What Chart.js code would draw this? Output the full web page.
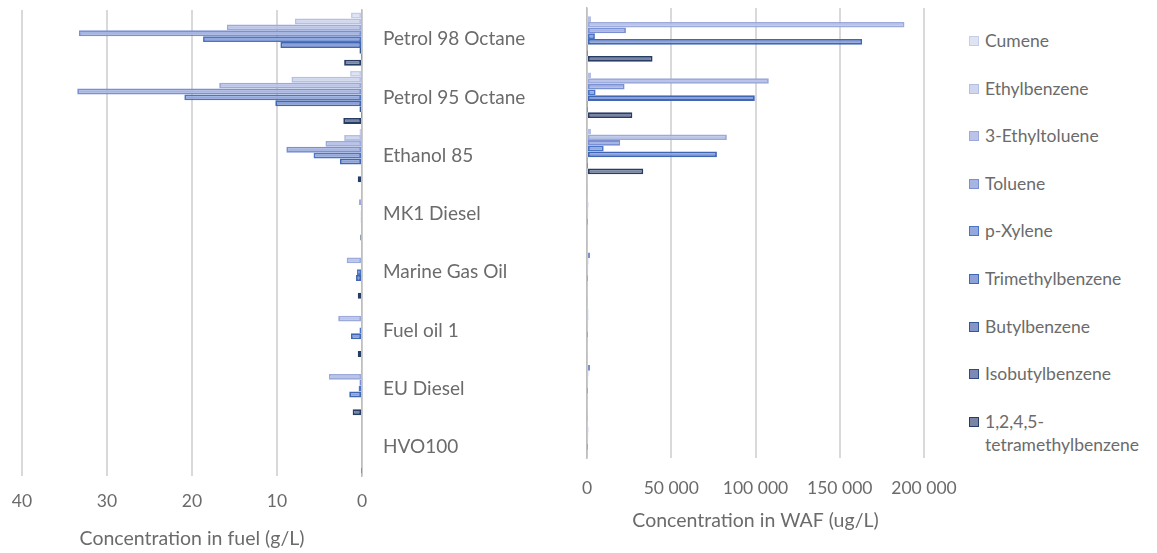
<!DOCTYPE html>
<html>
<head>
<meta charset="utf-8">
<script src="https://cdn.jsdelivr.net/npm/chart.js@4.4.0/dist/chart.umd.min.js"></script>
<style>
  html, body { margin: 0; padding: 0; background: #fff; }
  body { width: 1157px; height: 553px; position: relative; overflow: hidden; font-family: Lato, 'Open Sans', sans-serif; }
  .panel { position: absolute; top: 0; height: 553px; }
  #fuelWrap { left: 0; width: 560px; }
  #wafWrap { left: 560px; width: 400px; }
  #legend { position: absolute; left: 969px; top: 30px; width: 188px; }
  .leg-item { position: relative; height: 47.6px; }
  .leg-box { position: absolute; left: 0; top: 6px; width: 8px; height: 8px; border: 1.5px solid; }
  .leg-text { position: absolute; left: 16px; top: -1px; width: 170px; font-size: 17.5px; line-height: 23px; color: #6b6b6b; }
</style>
</head>
<body>
<div id="fuelWrap" class="panel"><canvas id="fuelChart"></canvas></div>
<div id="wafWrap" class="panel"><canvas id="wafChart"></canvas></div>
<div id="legend"></div>

<script>
/* ==================== Data ==================== */
const categories = ['Petrol 98 Octane', 'Petrol 95 Octane', 'Ethanol 85', 'MK1 Diesel',
    'Marine Gas Oil', 'Fuel oil 1', 'EU Diesel', 'HVO100'];

const seriesNames = ['Cumene', 'Ethylbenzene', '3-Ethyltoluene', 'Toluene', 'p-Xylene',
    'Trimethylbenzene', 'Butylbenzene', 'Isobutylbenzene', '1,2,4,5-tetramethylbenzene'];

// Concentration in fuel (g/L), one array per compound, in category order
const cumeneFuel        = [1.3, 1.4, 0.3, 0, 0, 0, 0, 0];
const ethylbenzeneFuel  = [7.9, 8.3, 2.1, 0, 0, 0, 0, 0];
const ethyltolueneFuel  = [15.9, 16.8, 4.3, 0.35, 1.8, 2.8, 3.9, 0];
const tolueneFuel       = [33.3, 33.5, 8.9, 0, 0.1, 0, 0.3, 0];
const pXyleneFuel       = [18.7, 20.9, 5.7, 0.15, 0.6, 0.3, 0.4, 0];
const trimethylFuel     = [9.6, 10.2, 2.6, 0.15, 0.7, 1.3, 1.5, 0];
const butylbenzeneFuel  = [0.3, 0.3, 0.1, 0, 0, 0, 0.1, 0];
const isobutylFuel      = [0.05, 0.05, 0, 0, 0, 0, 0, 0];
const tetramethylFuel   = [2.1, 2.2, 0.5, 0.2, 0.5, 0.5, 1.1, 0.05];

// Concentration in WAF (ug/L)
const cumeneWaf         = [600, 600, 600, 200, 200, 200, 200, 200];
const ethylbenzeneWaf   = [2400, 2400, 2400, 300, 300, 300, 300, 300];
const ethyltolueneWaf   = [188400, 107900, 83000, 400, 600, 500, 600, 300];
const tolueneWaf        = [23100, 22300, 19700, 600, 1800, 800, 1800, 600];
const pXyleneWaf        = [4700, 5100, 9900, 800, 800, 800, 800, 800];
const trimethylWaf      = [163300, 99600, 77100, 700, 700, 700, 700, 700];
const butylbenzeneWaf   = [300, 300, 300, 500, 500, 500, 500, 500];
const isobutylWaf       = [200, 200, 200, 300, 300, 300, 300, 300];
const tetramethylWaf    = [38900, 26900, 33400, 500, 500, 500, 500, 500];

const fuelTicks = [0, 10, 20, 30, 40];
const wafTicks = [0, 50000, 100000, 150000, 200000];

/* ==================== Styles ==================== */
const fills   = ['#dfe3f2', '#cfd6ee', '#b9c4e8', '#a7b5e2', '#95a8de', '#8da1d8', '#8595c9', '#7e8ab6', '#7a84a3'];
const borders = ['#c5cdea', '#b3bfe4', '#9baadb', '#7a90d2', '#4a74c6', '#3f67b4', '#335894', '#2e4b82', '#263d66'];

const fuelSeries = [cumeneFuel, ethylbenzeneFuel, ethyltolueneFuel, tolueneFuel, pXyleneFuel,
    trimethylFuel, butylbenzeneFuel, isobutylFuel, tetramethylFuel];
const wafSeries = [cumeneWaf, ethylbenzeneWaf, ethyltolueneWaf, tolueneWaf, pXyleneWaf,
    trimethylWaf, butylbenzeneWaf, isobutylWaf, tetramethylWaf];

const TEXT = '#6b6b6b';
const GRID = '#d9d9d9';
const FAMILY = 'Lato, "Open Sans", sans-serif';

Chart.defaults.color = TEXT;
Chart.defaults.font.family = FAMILY;
Chart.defaults.font.size = 17.5;

function buildDatasets(seriesList) {
    return seriesList.map((values, i) => ({
        label: seriesNames[i],
        data: values,
        backgroundColor: fills[i],
        borderColor: borders[i],
        borderWidth: 1.8,
        borderSkipped: false,
        categoryPercentage: 0.91,
        barPercentage: 1.0
    }));
}

function fmtSpace(v) {
    return String(v).replace(/\B(?=(\d{3})+(?!\d))/g, ' ');
}

// axes must not push the plot area in; layout padding does the placing
function noPadY(axis) {
    axis.paddingTop = 0;
    axis.paddingBottom = 0;
}
function noPadX(axis) {
    axis.paddingLeft = 0;
    axis.paddingRight = 0;
}

/* ==================== Left chart: fuel ==================== */
new Chart(document.getElementById('fuelChart'), {
    type: 'bar',
    data: { labels: categories, datasets: buildDatasets(fuelSeries) },
    options: {
        indexAxis: 'y',
        responsive: true,
        maintainAspectRatio: false,
        animation: false,
        layout: { padding: { left: 22, top: 10, right: 0, bottom: 0 } },
        plugins: { legend: { display: false }, tooltip: { enabled: false } },
        scales: {
            x: {
                min: 0, max: 40, reverse: true,
                afterBuildTicks: axis => { axis.ticks = fuelTicks.map(v => ({ value: v })); },
                afterFit: axis => { axis.height = 77; noPadX(axis); },
                grid: { color: GRID, lineWidth: 2, drawTicks: false },
                border: { display: false },
                ticks: { padding: 15, color: TEXT },
                title: { display: true, text: 'Concentration in fuel (g/L)', color: TEXT,
                    font: { size: 19.5 }, padding: { top: 0, bottom: 3 } }
            },
            y: {
                position: 'right',
                afterFit: axis => { axis.width = 198; noPadY(axis); },
                grid: { display: false, drawTicks: false },
                border: { display: true, color: '#bfbfbf', width: 1.5 },
                ticks: { padding: 21, color: TEXT, font: { size: 19 } }
            }
        }
    }
});

/* ==================== Right chart: WAF ==================== */
new Chart(document.getElementById('wafChart'), {
    type: 'bar',
    data: { labels: categories, datasets: buildDatasets(wafSeries) },
    options: {
        indexAxis: 'y',
        responsive: true,
        maintainAspectRatio: false,
        animation: false,
        layout: { padding: { left: 27, top: 8, right: 36, bottom: 0 } },
        plugins: { legend: { display: false }, tooltip: { enabled: false } },
        scales: {
            x: {
                min: 0, max: 200000,
                afterBuildTicks: axis => { axis.ticks = wafTicks.map(v => ({ value: v })); },
                afterFit: axis => { axis.height = 95; noPadX(axis); },
                grid: { color: GRID, lineWidth: 2, drawTicks: false },
                border: { display: false },
                ticks: { padding: 20, color: TEXT, callback: v => fmtSpace(v) },
                title: { display: true, text: 'Concentration in WAF (ug/L)', color: TEXT,
                    font: { size: 19.5 }, padding: { top: 0, bottom: 21 } }
            },
            y: {
                afterFit: axis => { axis.width = 0; noPadY(axis); },
                grid: { display: false, drawTicks: false },
                border: { display: true, color: '#bfbfbf', width: 1.5 },
                ticks: { display: false }
            }
        }
    }
});

/* ==================== Legend ==================== */
const legendEl = document.getElementById('legend');
seriesNames.forEach((name, i) => {
    const item = document.createElement('div');
    item.className = 'leg-item';
    item.innerHTML = `<span class="leg-box" style="background:${fills[i]};border-color:${borders[i]}"></span>` +
        `<span class="leg-text">${name}</span>`;
    legendEl.appendChild(item);
});
</script>
</body>
</html>
